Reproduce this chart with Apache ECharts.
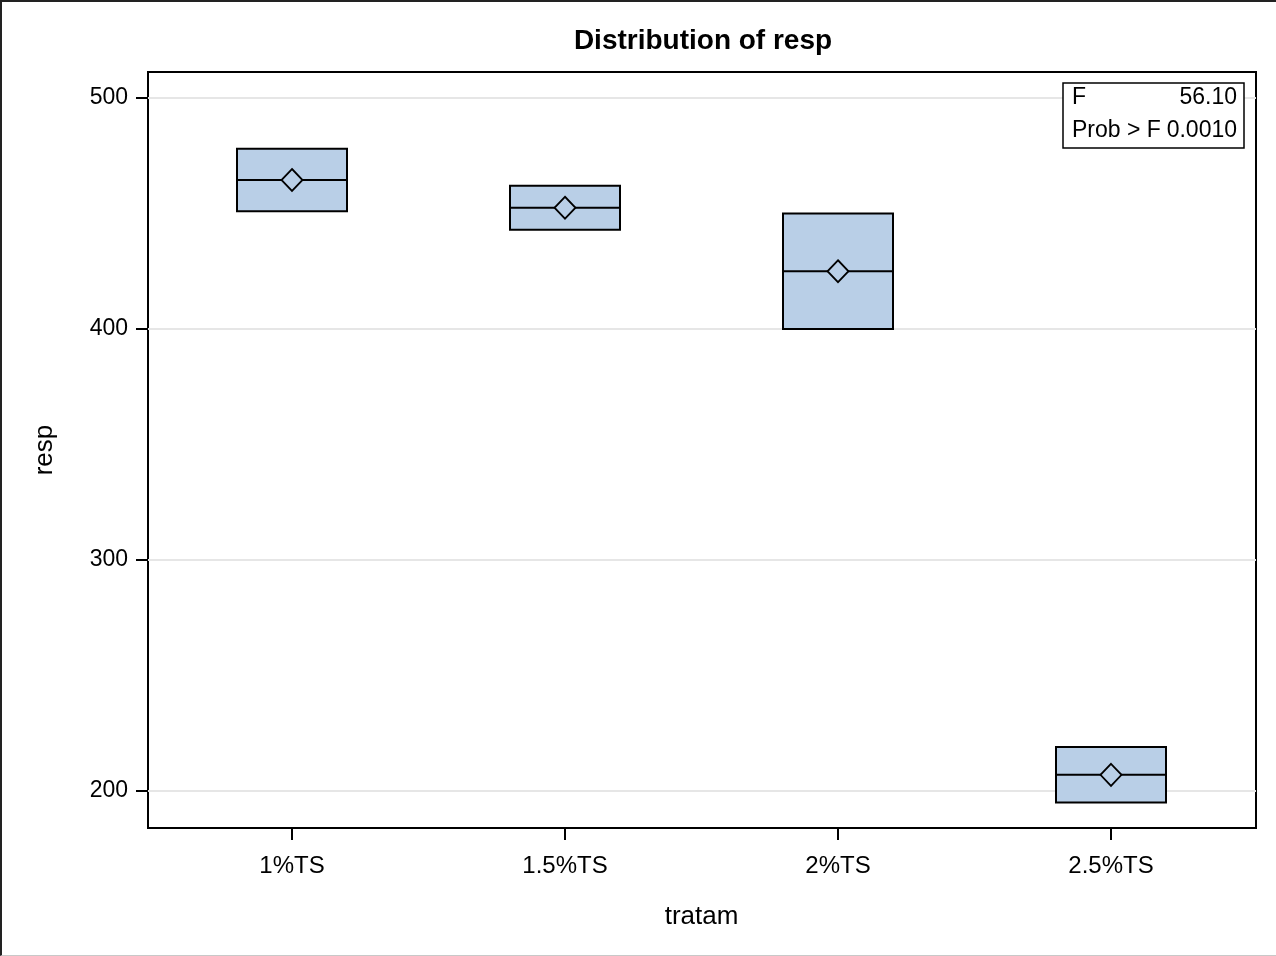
<!DOCTYPE html>
<html><head><meta charset="utf-8">
<script src="https://cdn.jsdelivr.net/npm/echarts@6/dist/echarts.min.js"></script>
<style>
html,body{margin:0;padding:0;background:#fff}
#c{width:1276px;height:956px;position:absolute;left:0;top:0}
#frame{position:absolute;left:0;top:0;width:1276px;height:956px;box-sizing:border-box;border-top:2px solid #222;border-left:2px solid #222;border-bottom:1px solid #c8c8c8;pointer-events:none}
</style>
</head><body><div id="c"></div><div id="frame"></div>
<script>
// ---- data ----
const categories = ['1%TS', '1.5%TS', '2%TS', '2.5%TS'];
const minValues = [451, 443, 400, 195];
const q1Values = [451, 443, 400, 195];
const medianValues = [464.5, 452.5, 425, 207];
const q3Values = [478, 462, 450, 219];
const maxValues = [478, 462, 450, 219];
const meanValues = [464.5, 452.5, 425, 207];
const yTickValues = [200, 300, 400, 500];
const statLabels = ['F', 'Prob > F'];
const statValues = ['56.10', '0.0010'];

// ---- chart ----
const FONT = '"Liberation Sans", Arial, sans-serif';
const BOX = '#b9cfe7';
const chart = echarts.init(document.getElementById('c'), null, {renderer: 'canvas'});
const boxData = categories.map((c, i) => [minValues[i], q1Values[i], medianValues[i], q3Values[i], maxValues[i]]);
const meanData = categories.map((c, i) => [c, meanValues[i]]);
const yMin = 183.98, yMax = 511.26;

const option = {
  animation: false,
  backgroundColor: '#fff',
  title: {
    text: 'Distribution of resp', left: 703, top: 27, padding: 0, textAlign: 'center',
    textStyle: {fontFamily: FONT, fontSize: 28, fontWeight: 'bold', color: '#000'}
  },
  grid: [
    {left: 148, top: 72, width: 1108, height: 756, show: true, borderColor: '#000', borderWidth: 2, backgroundColor: 'transparent'},
    {left: 148, top: 98, width: 1108, height: 693},
    {left: 155.5, top: 72, width: 1092, height: 756}
  ],
  xAxis: [
    {gridIndex: 0, type: 'value', min: 0, max: 1, show: false},
    {gridIndex: 1, type: 'value', min: 0, max: 1, show: false},
    {gridIndex: 2, type: 'category', data: categories,
     axisLine: {show: false},
     axisTick: {show: true, alignWithLabel: true, length: 12, lineStyle: {color: '#000', width: 2}},
     axisLabel: {margin: 26, fontSize: 24, color: '#000', fontFamily: FONT},
     splitLine: {show: false},
     name: 'tratam', nameLocation: 'middle', nameGap: 76,
     nameTextStyle: {fontSize: 26, color: '#000', fontFamily: FONT}}
  ],
  yAxis: [
    {gridIndex: 0, type: 'value', min: yMin, max: yMax, show: true,
     axisLine: {show: false}, axisTick: {show: false}, axisLabel: {show: false}, splitLine: {show: false},
     name: 'resp', nameLocation: 'middle', nameGap: 90,
     nameTextStyle: {fontSize: 26, color: '#000', fontFamily: FONT}},
    {gridIndex: 1, type: 'value', min: yTickValues[0], max: yTickValues[yTickValues.length - 1], interval: 100,
     axisLine: {show: false},
     axisTick: {show: true, length: 12, lineStyle: {color: '#000', width: 2}},
     axisLabel: {margin: 20, fontSize: 23, color: '#000', fontFamily: FONT},
     splitLine: {show: true, lineStyle: {color: '#e6e6e6', width: 2}}},
    {gridIndex: 2, type: 'value', min: yMin, max: yMax, show: false}
  ],
  series: [
    {type: 'boxplot', xAxisIndex: 2, yAxisIndex: 2, data: boxData, boxWidth: [110, 110],
     itemStyle: {color: BOX, borderColor: '#000', borderWidth: 2}, z: 3},
    {type: 'scatter', xAxisIndex: 2, yAxisIndex: 2, data: meanData, symbol: 'diamond', symbolSize: [21, 22],
     itemStyle: {color: BOX, borderColor: '#000', borderWidth: 1.8, opacity: 1}, z: 4}
  ],
  graphic: [
    {type: 'rect', shape: {x: 1063, y: 83, width: 181, height: 65}, style: {fill: '#fff', stroke: '#000', lineWidth: 1.5}, z: 10},
    {type: 'text', x: 1072, y: 98, z: 11, style: {text: statLabels[0], font: '23px ' + FONT, fill: '#000', align: 'left', verticalAlign: 'middle'}},
    {type: 'text', x: 1237, y: 98, z: 11, style: {text: statValues[0], font: '23px ' + FONT, fill: '#000', align: 'right', verticalAlign: 'middle'}},
    {type: 'text', x: 1072, y: 131, z: 11, style: {text: statLabels[1], font: '23px ' + FONT, fill: '#000', align: 'left', verticalAlign: 'middle'}},
    {type: 'text', x: 1237, y: 131, z: 11, style: {text: statValues[1], font: '23px ' + FONT, fill: '#000', align: 'right', verticalAlign: 'middle'}}
  ]
};
chart.setOption(option);
</script>
</body></html>
